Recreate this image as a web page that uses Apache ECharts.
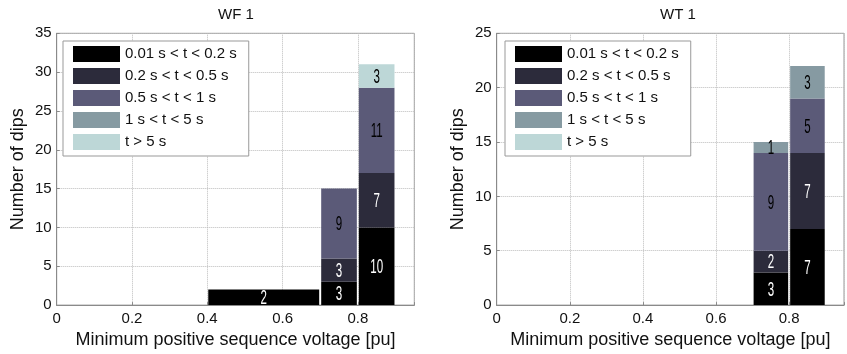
<!DOCTYPE html>
<html>
<head>
<meta charset="utf-8">
<script src="https://cdn.jsdelivr.net/npm/echarts@6/dist/echarts.min.js"></script>
<style>
html,body{margin:0;padding:0;background:#fff;}
#c{width:847px;height:354px;}
</style>
</head>
<body>
<div id="c"></div>
<script>
// ---------- data ----------
const durations = ['0.01 s < t < 0.2 s', '0.2 s < t < 0.5 s', '0.5 s < t < 1 s', '1 s < t < 5 s', 't > 5 s'];

// WF 1 bins (minimum positive sequence voltage, pu)
const wf1BinStart = [0.4, 0.7, 0.8];
const wf1BinEnd   = [0.7, 0.8, 0.9];
const wf1Dur1 = [2, 3, 10];   // 0.01 s < t < 0.2 s
const wf1Dur2 = [0, 3, 7];    // 0.2 s < t < 0.5 s
const wf1Dur3 = [0, 9, 11];   // 0.5 s < t < 1 s
const wf1Dur4 = [0, 0, 0];    // 1 s < t < 5 s
const wf1Dur5 = [0, 0, 3];    // t > 5 s

// WT 1 bins
const wt1BinStart = [0.7, 0.8];
const wt1BinEnd   = [0.8, 0.9];
const wt1Dur1 = [3, 7];
const wt1Dur2 = [2, 7];
const wt1Dur3 = [9, 5];
const wt1Dur4 = [1, 3];
const wt1Dur5 = [0, 0];

const titles = ['WF 1', 'WT 1'];
const xAxisName = 'Minimum positive sequence voltage [pu]';
const yAxisName = 'Number of dips';
const xMin = 0, xMax = 0.95, xStep = 0.2;
const wf1YMax = 35, wt1YMax = 25, yStep = 5;

// ---------- style ----------
const colors = ['#000000', '#2c2b3b', '#5b5a78', '#869aa2', '#bdd7d7'];
const labelColors = ['#ffffff', '#ffffff', '#000000', '#000000', '#000000'];
const FONT = '"Liberation Sans", Arial, sans-serif';

function makeRender(labelColor) {
  return function (params, api) {
    const x0 = api.value(0), x1 = api.value(1), y0 = api.value(2), y1 = api.value(3), n = api.value(4);
    const a = api.coord([x0, y1]);
    const b = api.coord([x1, y0]);
    const left = a[0] + 1, right = b[0] - 1, top = a[1], bottom = b[1];
    return {
      type: 'group',
      children: [
        { type: 'rect', shape: { x: left, y: top, width: right - left, height: bottom - top },
          style: { fill: api.visual('color') } },
        { type: 'text', x: (left + right) / 2, y: (top + bottom) / 2 + 1, scaleX: 0.55,
          style: { text: String(n), fill: labelColor, font: '21px ' + FONT, align: 'center', verticalAlign: 'middle' } }
      ]
    };
  };
}

function buildSeries(idx, starts, ends, stacks) {
  const cum = starts.map(() => 0);
  return stacks.map((vals, k) => {
    const data = [];
    vals.forEach((v, i) => {
      if (v > 0) data.push([starts[i], ends[i], cum[i], cum[i] + v, v]);
      cum[i] += v;
    });
    return {
      type: 'custom', name: durations[k], xAxisIndex: idx, yAxisIndex: idx,
      itemStyle: { color: colors[k] },
      renderItem: makeRender(labelColors[k]),
      encode: { x: [0, 1], y: [2, 3] },
      data: data
    };
  });
}

function xAxis(idx) {
  return {
    gridIndex: idx, type: 'value', min: xMin, max: xMax, interval: xStep,
    name: xAxisName, nameLocation: 'middle', nameGap: 25,
    nameTextStyle: { fontSize: 18, color: '#111', fontFamily: FONT },
    axisLine: { show: true, onZero: false, lineStyle: { color: '#8a8a8a' } },
    axisTick: { show: true, inside: true, length: 3, lineStyle: { color: '#8a8a8a' } },
    axisLabel: { fontSize: 15, color: '#111', margin: 6, fontFamily: FONT,
      formatter: v => (Math.abs(v / xStep - Math.round(v / xStep)) < 1e-6 ? String(+v.toFixed(1)) : '') },
    splitLine: { show: true, lineStyle: { type: 'dotted', color: '#bcbcbc' } }
  };
}
function yAxis(idx, max) {
  return {
    gridIndex: idx, type: 'value', min: 0, max: max, interval: yStep,
    name: yAxisName, nameLocation: 'middle', nameGap: 30,
    nameTextStyle: { fontSize: 18, color: '#111', fontFamily: FONT },
    axisLine: { show: true, lineStyle: { color: '#8a8a8a' } },
    axisTick: { show: true, inside: true, length: 3, lineStyle: { color: '#8a8a8a' } },
    axisLabel: { fontSize: 15, color: '#111', margin: 5, fontFamily: FONT },
    splitLine: { show: true, lineStyle: { type: 'dotted', color: '#bcbcbc' } }
  };
}
function legend(left) {
  return {
    left: left, top: 41, orient: 'vertical', icon: 'rect',
    itemWidth: 47, itemHeight: 16, itemGap: 6, padding: [5, 12, 6, 10],
    backgroundColor: '#ffffff', borderColor: '#999999', borderWidth: 1, borderRadius: 0,
    textStyle: { fontSize: 15, color: '#111', fontFamily: FONT },
    selectedMode: false, data: durations
  };
}

const chart = echarts.init(document.getElementById('c'));
chart.setOption({
  animation: false,
  textStyle: { fontFamily: FONT },
  title: [
    { text: titles[0], left: 218, top: 7, padding: 0, textStyle: { fontSize: 15, fontWeight: 'normal', color: '#111', fontFamily: FONT } },
    { text: titles[1], left: 660, top: 7, padding: 0, textStyle: { fontSize: 15, fontWeight: 'normal', color: '#111', fontFamily: FONT } }
  ],
  grid: [
    { left: 56.7, top: 33.3, right: 432.7, bottom: 48.7, show: true, borderColor: '#999', borderWidth: 1 },
    { left: 496.7, top: 33.3, right: -8.7, bottom: 48.7, show: true, borderColor: '#999', borderWidth: 1 }
  ],
  xAxis: [xAxis(0), xAxis(1)],
  yAxis: [yAxis(0, wf1YMax), yAxis(1, wt1YMax)],
  legend: [legend(63), legend(505)],
  series: [].concat(
    buildSeries(0, wf1BinStart, wf1BinEnd, [wf1Dur1, wf1Dur2, wf1Dur3, wf1Dur4, wf1Dur5]),
    buildSeries(1, wt1BinStart, wt1BinEnd, [wt1Dur1, wt1Dur2, wt1Dur3, wt1Dur4, wt1Dur5])
  )
});
</script>
</body>
</html>
